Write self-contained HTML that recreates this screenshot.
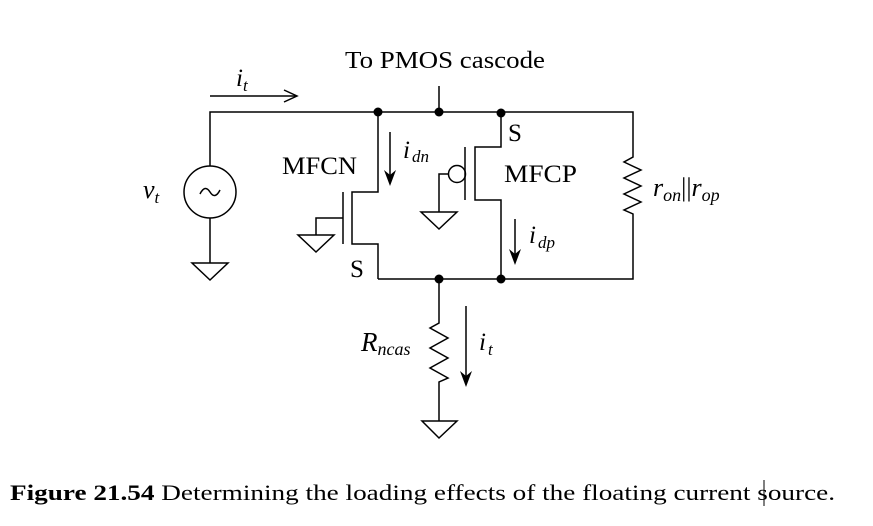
<!DOCTYPE html>
<html><head><style>
body{margin:0;background:#fff;}
svg text{font-family:"Liberation Serif",serif;fill:#000;}
</style></head><body>
<svg width="873" height="521" viewBox="0 0 873 521" xmlns="http://www.w3.org/2000/svg">
<g stroke="#000" stroke-width="1.5" fill="none">
<polyline points="210,166 210,112 633,112 633,149"/>
<polyline points="633,218 633,279 378,279"/>
<line x1="439" y1="86" x2="439" y2="112"/>
<circle cx="210" cy="192" r="26"/>
<path d="M200,194 q5,-10 10,-2 t10,-2" />
<line x1="210" y1="218" x2="210" y2="263"/>
<polygon points="192,263 228,263 210,280"/>
<line x1="210" y1="96" x2="296" y2="96"/>
<polyline points="284,90 297,96 284,102"/>
<polyline points="378,112 378,192 352,192 352,244 378,244 378,279"/>
<line x1="343" y1="192" x2="343" y2="244"/>
<polyline points="343,218 316,218 316,235"/>
<polygon points="298,235 334,235 316,252"/>
<polyline points="501,112 501,147 475,147 475,200 501,200 501,279"/>
<line x1="465" y1="147" x2="465" y2="200"/>
<circle cx="457" cy="174" r="8.5"/>
<polyline points="448,174 439,174 439,212"/>
<polygon points="421,212 457,212 439,229"/>
<line x1="390" y1="132" x2="390" y2="182"/>
<line x1="515" y1="219" x2="515" y2="261"/>
<polyline points="633,149 633,157 624,162 641,170 624,178 641,186 624,194 641,202 624,210 633,214 633,218"/>
<polyline points="439,279 439,323 430,328 448,338 430,348 448,358 430,368 448,378 439,382 439,421"/>
<polygon points="422,421 457,421 439,438"/>
<line x1="466" y1="306" x2="466" y2="383"/>
</g>
<g fill="#000">
<circle cx="378" cy="112" r="4.5"/><circle cx="439" cy="112" r="4.5"/><circle cx="501" cy="113" r="4.5"/>
<circle cx="439" cy="279" r="4.5"/><circle cx="501" cy="279" r="4.5"/>
<polygon points="384,170 390,186 396,170 390,175"/>
<polygon points="509,249 515,265 521,249 515,254"/>
<polygon points="460,371 466,387 472,371 466,376"/>
</g>
<text x="345" y="68" font-size="24" textLength="200" lengthAdjust="spacingAndGlyphs">To PMOS cascode</text>
<text x="236" y="86" font-size="25" font-style="italic">i<tspan font-size="17" dy="5">t</tspan></text>
<text x="143" y="198" font-size="26" font-style="italic">v<tspan font-size="17" dy="5">t</tspan></text>
<text x="282" y="174" font-size="25" textLength="75" lengthAdjust="spacingAndGlyphs">MFCN</text>
<text x="403" y="158" font-size="25" font-style="italic">i<tspan font-size="17" dx="2" dy="4">dn</tspan></text>
<text x="508" y="141" font-size="25">S</text>
<text x="504" y="182" font-size="25" textLength="73" lengthAdjust="spacingAndGlyphs">MFCP</text>
<text x="529" y="243" font-size="25" font-style="italic">i<tspan font-size="17" dx="2" dy="5">dp</tspan></text>
<text x="350" y="277" font-size="25">S</text>
<text x="653" y="196" font-size="26" font-style="italic">r<tspan font-size="18" dy="5">on</tspan><tspan dy="-5" font-style="normal">||</tspan>r<tspan font-size="18" dy="5">op</tspan></text>
<text x="361" y="351" font-size="27" font-style="italic">R<tspan font-size="18" dy="4">ncas</tspan></text>
<text x="479" y="350" font-size="25" font-style="italic">i<tspan font-size="17" dx="2" dy="5">t</tspan></text>
<text x="10" y="500" font-size="22" textLength="825" lengthAdjust="spacingAndGlyphs"><tspan font-weight="bold">Figure 21.54</tspan>  Determining the loading effects of the floating current source.</text>
<line x1="764" y1="480" x2="764" y2="506" stroke="#000" stroke-width="1"/>
</svg>
</body></html>
